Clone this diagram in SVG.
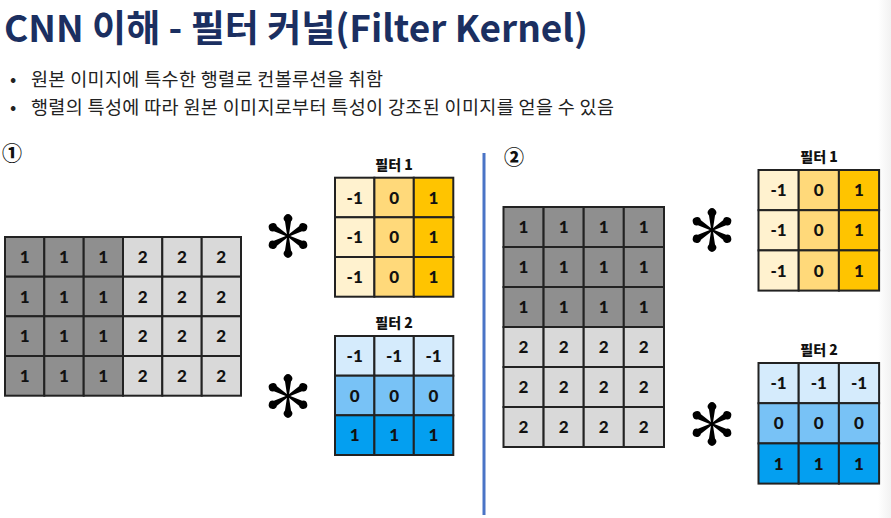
<svg xmlns="http://www.w3.org/2000/svg" xmlns:xlink="http://www.w3.org/1999/xlink" width="891" height="518" viewBox="0 0 891 518">
<style>
.title{font-family:"Noto Sans CJK KR","Noto Sans",sans-serif;font-size:37px;font-weight:700;fill:#1b2f61}
.bul{font-family:"Noto Sans CJK KR","Noto Sans",sans-serif;font-size:18.5px;fill:#222}
.num{font-family:"Noto Sans CJK KR","Noto Sans",sans-serif;font-size:20px;font-weight:900;fill:#111}
.lbl{font-family:"Noto Sans CJK KR","Noto Sans",sans-serif;font-size:14px;font-weight:900;fill:#111;text-anchor:middle}
.c{stroke:#222;stroke-width:2}
.v{font-family:Lato,"Liberation Sans",sans-serif;font-size:17px;font-weight:900;fill:#111;text-anchor:middle}
.d{fill:#8f8f8f}.l{fill:#d9d9d9}
.y1{fill:#fff2cf}.y2{fill:#ffd97a}.y3{fill:#ffc400}
.b1{fill:#d5ebfc}.b2{fill:#78c2f6}.b3{fill:#049ff0}
</style>
<defs>
<path id="spoke" d="M-0.8,0 L-3,-14.5 A4.2,4.2 0 1 1 3,-14.5 L0.8,0 Z" fill="#000"/>
<g id="ast">
<use xlink:href="#spoke"/>
<use xlink:href="#spoke" transform="rotate(60)"/>
<use xlink:href="#spoke" transform="rotate(120)"/>
<use xlink:href="#spoke" transform="rotate(180)"/>
<use xlink:href="#spoke" transform="rotate(240)"/>
<use xlink:href="#spoke" transform="rotate(300)"/>
</g>
<linearGradient id="edge" x1="0" x2="1" y1="0" y2="0"><stop offset="0" stop-color="#fff"/><stop offset="1" stop-color="#f2f2f2"/></linearGradient>
</defs>
<rect width="891" height="518" fill="#fff"/>
<rect x="878" y="0" width="13" height="518" fill="url(#edge)"/>

<g id="title"><text class="title" x="4" y="42" textLength="584" lengthAdjust="spacingAndGlyphs">CNN 이해 - 필터 커널(Filter Kernel)</text></g>
<g id="bullets">
<text class="bul" x="10" y="86">•</text><text class="bul" x="31" y="86" textLength="352">원본 이미지에 특수한 행렬로 컨볼루션을 취함</text>
<text class="bul" x="10" y="114">•</text><text class="bul" x="31" y="114" textLength="583">행렬의 특성에 따라 원본 이미지로부터 특성이 강조된 이미지를 얻을 수 있음</text>
</g>

<g id="connectors"><line x1="484" y1="153" x2="484" y2="515" stroke="#4a74c6" stroke-width="3"/></g>

<g id="panel1">
<text class="num" x="2" y="161">①</text>
<g id="image1">
<rect class="c d" x="5" y="237" width="39.3" height="39.7"/><rect class="c d" x="44.3" y="237" width="39.4" height="39.7"/><rect class="c d" x="83.7" y="237" width="39.3" height="39.7"/><rect class="c l" x="123" y="237" width="39.3" height="39.7"/><rect class="c l" x="162.3" y="237" width="39.4" height="39.7"/><rect class="c l" x="201.7" y="237" width="39.3" height="39.7"/>
<rect class="c d" x="5" y="276.7" width="39.3" height="39.6"/><rect class="c d" x="44.3" y="276.7" width="39.4" height="39.6"/><rect class="c d" x="83.7" y="276.7" width="39.3" height="39.6"/><rect class="c l" x="123" y="276.7" width="39.3" height="39.6"/><rect class="c l" x="162.3" y="276.7" width="39.4" height="39.6"/><rect class="c l" x="201.7" y="276.7" width="39.3" height="39.6"/>
<rect class="c d" x="5" y="316.3" width="39.3" height="39.7"/><rect class="c d" x="44.3" y="316.3" width="39.4" height="39.7"/><rect class="c d" x="83.7" y="316.3" width="39.3" height="39.7"/><rect class="c l" x="123" y="316.3" width="39.3" height="39.7"/><rect class="c l" x="162.3" y="316.3" width="39.4" height="39.7"/><rect class="c l" x="201.7" y="316.3" width="39.3" height="39.7"/>
<rect class="c d" x="5" y="356" width="39.3" height="39.7"/><rect class="c d" x="44.3" y="356" width="39.4" height="39.7"/><rect class="c d" x="83.7" y="356" width="39.3" height="39.7"/><rect class="c l" x="123" y="356" width="39.3" height="39.7"/><rect class="c l" x="162.3" y="356" width="39.4" height="39.7"/><rect class="c l" x="201.7" y="356" width="39.3" height="39.7"/>
<text class="v" x="24.7" y="262.8">1</text><text class="v" x="64" y="262.8">1</text><text class="v" x="103.3" y="262.8">1</text><text class="v" x="142.7" y="262.8">2</text><text class="v" x="182" y="262.8">2</text><text class="v" x="221.3" y="262.8">2</text>
<text class="v" x="24.7" y="302.5">1</text><text class="v" x="64" y="302.5">1</text><text class="v" x="103.3" y="302.5">1</text><text class="v" x="142.7" y="302.5">2</text><text class="v" x="182" y="302.5">2</text><text class="v" x="221.3" y="302.5">2</text>
<text class="v" x="24.7" y="342.2">1</text><text class="v" x="64" y="342.2">1</text><text class="v" x="103.3" y="342.2">1</text><text class="v" x="142.7" y="342.2">2</text><text class="v" x="182" y="342.2">2</text><text class="v" x="221.3" y="342.2">2</text>
<text class="v" x="24.7" y="381.8">1</text><text class="v" x="64" y="381.8">1</text><text class="v" x="103.3" y="381.8">1</text><text class="v" x="142.7" y="381.8">2</text><text class="v" x="182" y="381.8">2</text><text class="v" x="221.3" y="381.8">2</text>
</g>
<use xlink:href="#ast" x="288" y="236"/>
<use xlink:href="#ast" x="288" y="396"/>
<g id="filter1a">
<text class="lbl" x="394" y="170">필터 1</text>
<rect class="c y1" x="335" y="177.7" width="39.4" height="39.6"/><rect class="c y2" x="374.4" y="177.7" width="39.4" height="39.6"/><rect class="c y3" x="413.8" y="177.7" width="39.5" height="39.6"/>
<rect class="c y1" x="335" y="217.3" width="39.4" height="39.7"/><rect class="c y2" x="374.4" y="217.3" width="39.4" height="39.7"/><rect class="c y3" x="413.8" y="217.3" width="39.5" height="39.7"/>
<rect class="c y1" x="335" y="257" width="39.4" height="39.7"/><rect class="c y2" x="374.4" y="257" width="39.4" height="39.7"/><rect class="c y3" x="413.8" y="257" width="39.5" height="39.7"/>
<text class="v" x="354.7" y="203.5">-1</text><text class="v" x="394.1" y="203.5">0</text><text class="v" x="433.5" y="203.5">1</text>
<text class="v" x="354.7" y="243.2">-1</text><text class="v" x="394.1" y="243.2">0</text><text class="v" x="433.5" y="243.2">1</text>
<text class="v" x="354.7" y="282.8">-1</text><text class="v" x="394.1" y="282.8">0</text><text class="v" x="433.5" y="282.8">1</text>
</g>
<g id="filter2a">
<text class="lbl" x="394" y="328">필터 2</text>
<rect class="c b1" x="335" y="336" width="39.4" height="39.7"/><rect class="c b1" x="374.4" y="336" width="39.4" height="39.7"/><rect class="c b1" x="413.8" y="336" width="39.5" height="39.7"/>
<rect class="c b2" x="335" y="375.7" width="39.4" height="39.6"/><rect class="c b2" x="374.4" y="375.7" width="39.4" height="39.6"/><rect class="c b2" x="413.8" y="375.7" width="39.5" height="39.6"/>
<rect class="c b3" x="335" y="415.3" width="39.4" height="39.7"/><rect class="c b3" x="374.4" y="415.3" width="39.4" height="39.7"/><rect class="c b3" x="413.8" y="415.3" width="39.5" height="39.7"/>
<text class="v" x="354.7" y="361.8">-1</text><text class="v" x="394.1" y="361.8">-1</text><text class="v" x="433.5" y="361.8">-1</text>
<text class="v" x="354.7" y="401.5">0</text><text class="v" x="394.1" y="401.5">0</text><text class="v" x="433.5" y="401.5">0</text>
<text class="v" x="354.7" y="441.2">1</text><text class="v" x="394.1" y="441.2">1</text><text class="v" x="433.5" y="441.2">1</text>
</g>
</g>

<g id="panel2">
<text class="num" x="504" y="165">②</text>
<g id="image2">
<rect class="c d" x="503.5" y="207" width="40.1" height="40"/><rect class="c d" x="543.6" y="207" width="40.1" height="40"/><rect class="c d" x="583.7" y="207" width="40.1" height="40"/><rect class="c d" x="623.8" y="207" width="40.2" height="40"/>
<rect class="c d" x="503.5" y="247" width="40.1" height="40"/><rect class="c d" x="543.6" y="247" width="40.1" height="40"/><rect class="c d" x="583.7" y="247" width="40.1" height="40"/><rect class="c d" x="623.8" y="247" width="40.2" height="40"/>
<rect class="c d" x="503.5" y="287" width="40.1" height="40"/><rect class="c d" x="543.6" y="287" width="40.1" height="40"/><rect class="c d" x="583.7" y="287" width="40.1" height="40"/><rect class="c d" x="623.8" y="287" width="40.2" height="40"/>
<rect class="c l" x="503.5" y="327" width="40.1" height="40"/><rect class="c l" x="543.6" y="327" width="40.1" height="40"/><rect class="c l" x="583.7" y="327" width="40.1" height="40"/><rect class="c l" x="623.8" y="327" width="40.2" height="40"/>
<rect class="c l" x="503.5" y="367" width="40.1" height="40"/><rect class="c l" x="543.6" y="367" width="40.1" height="40"/><rect class="c l" x="583.7" y="367" width="40.1" height="40"/><rect class="c l" x="623.8" y="367" width="40.2" height="40"/>
<rect class="c l" x="503.5" y="407" width="40.1" height="40"/><rect class="c l" x="543.6" y="407" width="40.1" height="40"/><rect class="c l" x="583.7" y="407" width="40.1" height="40"/><rect class="c l" x="623.8" y="407" width="40.2" height="40"/>
<text class="v" x="523.5" y="233">1</text><text class="v" x="563.6" y="233">1</text><text class="v" x="603.7" y="233">1</text><text class="v" x="643.8" y="233">1</text>
<text class="v" x="523.5" y="273">1</text><text class="v" x="563.6" y="273">1</text><text class="v" x="603.7" y="273">1</text><text class="v" x="643.8" y="273">1</text>
<text class="v" x="523.5" y="313">1</text><text class="v" x="563.6" y="313">1</text><text class="v" x="603.7" y="313">1</text><text class="v" x="643.8" y="313">1</text>
<text class="v" x="523.5" y="353">2</text><text class="v" x="563.6" y="353">2</text><text class="v" x="603.7" y="353">2</text><text class="v" x="643.8" y="353">2</text>
<text class="v" x="523.5" y="393">2</text><text class="v" x="563.6" y="393">2</text><text class="v" x="603.7" y="393">2</text><text class="v" x="643.8" y="393">2</text>
<text class="v" x="523.5" y="433">2</text><text class="v" x="563.6" y="433">2</text><text class="v" x="603.7" y="433">2</text><text class="v" x="643.8" y="433">2</text>
</g>
<use xlink:href="#ast" x="712" y="230"/>
<use xlink:href="#ast" x="712" y="424"/>
<g id="filter1b">
<text class="lbl" x="819" y="162">필터 1</text>
<rect class="c y1" x="758.5" y="170" width="40.2" height="40.2"/><rect class="c y2" x="798.7" y="170" width="40.2" height="40.2"/><rect class="c y3" x="838.9" y="170" width="40.2" height="40.2"/>
<rect class="c y1" x="758.5" y="210.2" width="40.2" height="40.2"/><rect class="c y2" x="798.7" y="210.2" width="40.2" height="40.2"/><rect class="c y3" x="838.9" y="210.2" width="40.2" height="40.2"/>
<rect class="c y1" x="758.5" y="250.4" width="40.2" height="40.2"/><rect class="c y2" x="798.7" y="250.4" width="40.2" height="40.2"/><rect class="c y3" x="838.9" y="250.4" width="40.2" height="40.2"/>
<text class="v" x="778.6" y="196.1">-1</text><text class="v" x="818.8" y="196.1">0</text><text class="v" x="859" y="196.1">1</text>
<text class="v" x="778.6" y="236.3">-1</text><text class="v" x="818.8" y="236.3">0</text><text class="v" x="859" y="236.3">1</text>
<text class="v" x="778.6" y="276.5">-1</text><text class="v" x="818.8" y="276.5">0</text><text class="v" x="859" y="276.5">1</text>
</g>
<g id="filter2b">
<text class="lbl" x="819" y="355">필터 2</text>
<rect class="c b1" x="758.5" y="363" width="40.2" height="40.2"/><rect class="c b1" x="798.7" y="363" width="40.2" height="40.2"/><rect class="c b1" x="838.9" y="363" width="40.2" height="40.2"/>
<rect class="c b2" x="758.5" y="403.2" width="40.2" height="40.2"/><rect class="c b2" x="798.7" y="403.2" width="40.2" height="40.2"/><rect class="c b2" x="838.9" y="403.2" width="40.2" height="40.2"/>
<rect class="c b3" x="758.5" y="443.4" width="40.2" height="40.2"/><rect class="c b3" x="798.7" y="443.4" width="40.2" height="40.2"/><rect class="c b3" x="838.9" y="443.4" width="40.2" height="40.2"/>
<text class="v" x="778.6" y="389.1">-1</text><text class="v" x="818.8" y="389.1">-1</text><text class="v" x="859" y="389.1">-1</text>
<text class="v" x="778.6" y="429.3">0</text><text class="v" x="818.8" y="429.3">0</text><text class="v" x="859" y="429.3">0</text>
<text class="v" x="778.6" y="469.5">1</text><text class="v" x="818.8" y="469.5">1</text><text class="v" x="859" y="469.5">1</text>
</g>
</g>
</svg>
